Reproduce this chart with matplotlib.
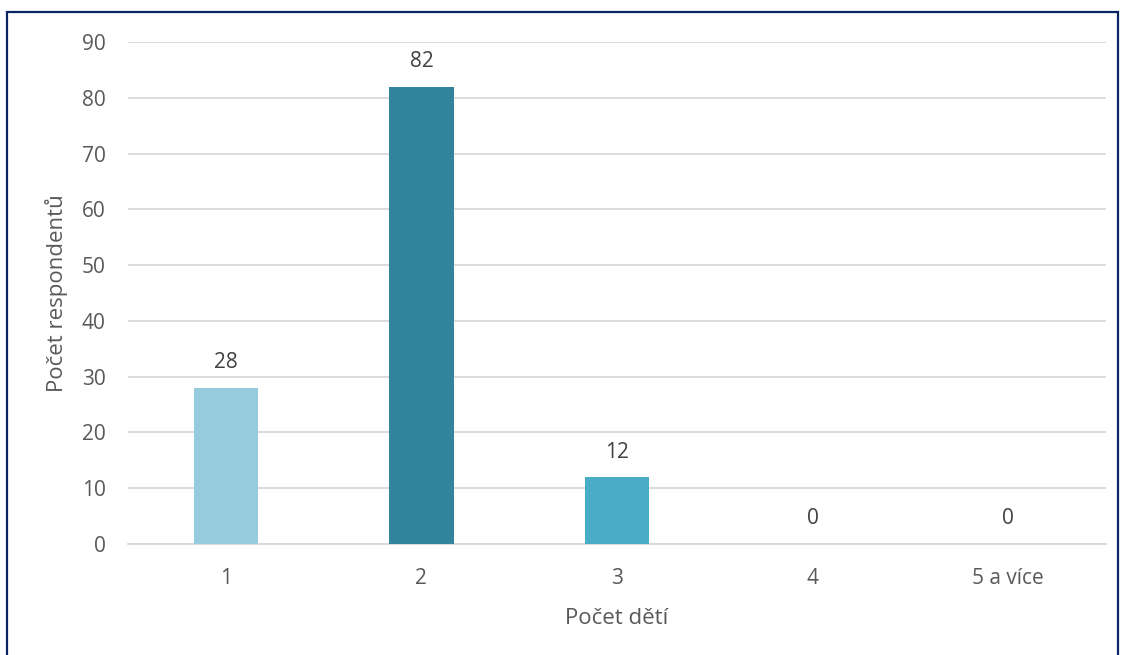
import matplotlib
matplotlib.use("Agg")
import matplotlib.pyplot as plt
from matplotlib.patches import Rectangle

categories = ["1", "2", "3", "4", "5 a více"]
values = [28, 82, 12, 0, 0]
bar_colors = ["#95CBDD", "#31849B", "#4BACC6", "#4BACC6", "#4BACC6"]
yticks = [0, 10, 20, 30, 40, 50, 60, 70, 80, 90]

plt.rcParams['font.family'] = ['Open Sans', 'DejaVu Sans']
txt = "#595959"

fig = plt.figure(figsize=(11.23, 6.55), dpi=100)
ax = fig.add_axes([128/1123, 1-544/655, (1106-128)/1123, (544-42)/655])

x = list(range(len(categories)))
ax.bar(x, values, width=0.33, color=bar_colors, zorder=3)
for xi, v in zip(x, values):
    ax.text(xi, v + 2.6, str(v), ha='center', va='bottom', fontsize=15, color="#404040")

ax.set_xlim(-0.5, len(categories) - 0.5)
ax.set_ylim(0, 90)
ax.set_yticks(yticks)
ax.set_xticks(x)
ax.set_xticklabels(categories)
ax.tick_params(axis='both', length=0, labelsize=15, colors=txt)
ax.tick_params(axis='y', pad=16)
ax.tick_params(axis='x', pad=17)
ax.grid(axis='y', color="#D9D9D9", linewidth=1.3, zorder=0)
for s in ['top', 'right', 'left']:
    ax.spines[s].set_visible(False)
ax.spines['bottom'].set_color("#D9D9D9")
ax.spines['bottom'].set_linewidth(1.3)

ax.set_ylabel("Počet respondentů", fontsize=16, color=txt, labelpad=10)
ax.set_xlabel("Počet dětí", fontsize=16, color=txt, labelpad=14)

fig.patches.append(Rectangle((7/1123, -0.05), (1118-7)/1123, 1-12/655+0.05,
                             transform=fig.transFigure, fill=False,
                             edgecolor="#0B2466", linewidth=1.6))

fig.savefig("out.png", dpi=100)
